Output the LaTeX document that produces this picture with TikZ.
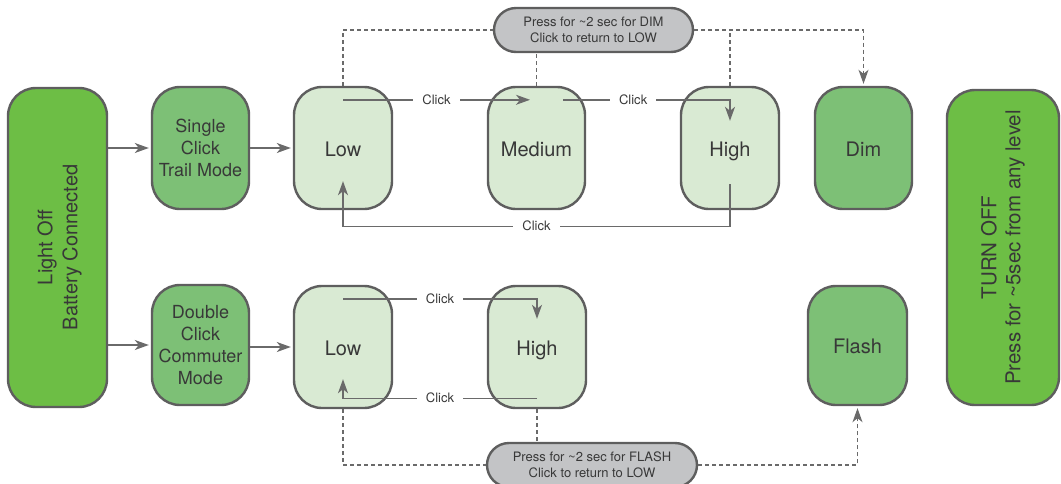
\documentclass[tikz,border=0pt]{standalone}
\usepackage{fontspec}
\setmainfont{TeX Gyre Heros}
\usetikzlibrary{arrows.meta,calc}
\definecolor{bright}{HTML}{6DBE45}
\definecolor{midgreen}{HTML}{7DC076}
\definecolor{lightgreen}{HTML}{D9EAD3}
\definecolor{pillgray}{HTML}{C3C4C6}
\definecolor{border}{HTML}{5E5E5E}
\definecolor{linegray}{HTML}{6A6A6A}
\definecolor{txt}{HTML}{383838}
\tikzset{
  box/.style={draw=border, line width=2.4pt, rounded corners=28pt, text=txt, align=center,
    font=\fontsize{20}{24}\selectfont},
  bigbox/.style={box, fill=bright},
  modebox/.style={box, fill=midgreen, minimum width=97, minimum height=122,
    font=\fontsize{18}{22}\selectfont},
  levelbox/.style={box, fill=lightgreen, minimum width=98, minimum height=122, text height=16pt, text depth=0pt},
  specbox/.style={box, fill=midgreen, minimum width=97, minimum height=122, text height=16pt, text depth=0pt},
  pill/.style={draw=border, line width=2.4pt, rounded corners=22pt, fill=pillgray, text=txt,
    minimum height=44, align=center, font=\fontsize{13}{16}\selectfont},
  conn/.style={draw=linegray, line width=1.4pt},
  arr/.style={conn, -{Stealth[length=14pt,width=10pt,inset=4pt]}},
  dashline/.style={draw=linegray, line width=1.3pt, dash pattern=on 4pt off 3pt},
  dasharr/.style={dashline, -{Stealth[length=14pt,width=10pt,inset=4pt]}},
  lbl/.style={fill=white, text=txt, inner xsep=9pt, inner ysep=1pt, font=\fontsize{13}{16}\selectfont},
}
\begin{document}
\begin{tikzpicture}[x=1pt,y=-1pt]
\useasboundingbox (0,0) rectangle (1061,483);
% left and right big boxes
\node[bigbox, minimum width=99, minimum height=319] (off) at (57.5,247.5) {};
\node[rotate=90, align=center, text=txt, font=\fontsize{20}{25}\selectfont] (offtxt) at ([xshift=2pt]off.center) {Light Off\\Battery Connected};
\node[bigbox, minimum width=112, minimum height=315] (turnoff) at (1003,247.5) {};
\node[rotate=90, align=center, text=txt, font=\fontsize{20.5}{24}\selectfont] (turnofftxt) at (turnoff) {TURN OFF\\Press for \textasciitilde5sec from any level};
% mode boxes
\node[modebox] (single) at (200.5,148) {Single\\Click\\Trail Mode};
\node[modebox, minimum height=120] (double) at (200.5,345) {Double\\Click\\Commuter\\Mode};
% level boxes
\node[levelbox] (lowA) at (343,148) {Low};
\node[levelbox, minimum width=97] (med) at (536.5,148) {Medium};
\node[levelbox] (highA) at (730,148) {High};
\node[specbox] (dim) at (863.5,148) {Dim};
\node[levelbox] (lowB) at (343,347) {Low};
\node[levelbox] (highB) at (537,347) {High};
\node[specbox, minimum width=99, minimum height=119] (flash) at (857.5,345.5) {Flash};
% pills
\node[pill, minimum width=199] (pdim) at (593.5,30) {Press for \textasciitilde2 sec for DIM\\Click to return to LOW};
\node[pill, minimum width=210] (pflash) at (592,465) {Press for \textasciitilde2 sec for FLASH\\Click to return to LOW};
% entry arrows
\draw[arr] (off.east |- single.west) -- ([xshift=-2pt]single.west);
\draw[arr] (off.east |- double.west) -- ([xshift=-2pt]double.west);
\draw[arr] (single.east) -- ([xshift=-2pt]lowA.west);
\draw[arr] (double.east |- lowB.west) -- ([xshift=-2pt]lowB.west);
% top click arrows
\draw[arr] ([yshift=-14pt]lowA.north) -- node[lbl]{Click} ([xshift=-6.5pt,yshift=-14pt]med.north);
\coordinate (m1) at ([xshift=26.5pt,yshift=-14pt]med.north);
\draw[arr] (m1) -- node[lbl,pos=.42]{Click} (m1 -| highA.north) -- ([yshift=-35pt]highA.north);
\coordinate (h1) at ([yshift=26pt]highA.south);
\coordinate (r1) at ([yshift=-16pt]lowA.south);
\draw[arr] (h1) |- node[lbl,pos=.75]{Click} (r1) -- ([yshift=29pt]lowA.south);
% bottom click arrows
\coordinate (l2) at ([yshift=-14pt]lowB.north);
\draw[arr] (l2) -- node[lbl]{Click} (l2 -| highB.north) -- ([yshift=-34pt]highB.north);
\coordinate (h2) at ([yshift=11pt]highB.south);
\draw[arr] (h2) -- node[lbl]{Click} (h2 -| lowB.south) -- ([yshift=30pt]lowB.south);
% dashed top
\draw[dashline] (lowA.north) |- (pdim.west);
\draw[dashline] (med.north) -- (med.north |- pdim.south);
\draw[dashline] (highA.north) -- (highA.north |- pdim.east);
\draw[dasharr] (pdim.east) -| ([yshift=2pt]dim.north);
% dashed bottom
\draw[dashline] (lowB.south) |- (pflash.west);
\draw[dashline] (highB.south) -- (highB.south |- pflash.north);
\draw[dasharr] (pflash.east) -| ([yshift=-2pt]flash.south);
\end{tikzpicture}
\end{document}
